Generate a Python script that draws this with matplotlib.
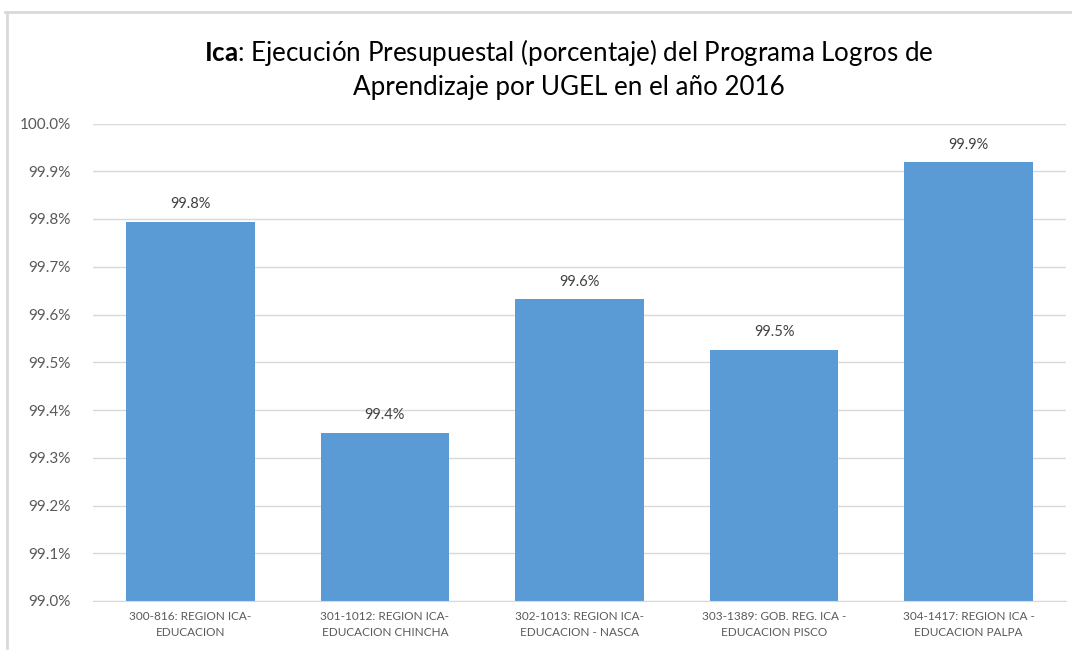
import matplotlib
matplotlib.use("Agg")
import matplotlib.pyplot as plt
from matplotlib.lines import Line2D
from matplotlib.ticker import FuncFormatter

categories = ["300-816: REGION ICA-\nEDUCACION",
              "301-1012: REGION ICA-\nEDUCACION CHINCHA",
              "302-1013: REGION ICA-\nEDUCACION - NASCA",
              "303-1389: GOB. REG. ICA -\nEDUCACION PISCO",
              "304-1417: REGION ICA -\nEDUCACION PALPA"]
values = [99.794, 99.352, 99.632, 99.526, 99.919]
yticks = [99.0, 99.1, 99.2, 99.3, 99.4, 99.5, 99.6, 99.7, 99.8, 99.9, 100.0]

plt.rcParams['font.family'] = ['Lato', 'DejaVu Sans']
plt.rcParams['mathtext.fontset'] = 'custom'
plt.rcParams['mathtext.bf'] = 'Lato:bold'
plt.rcParams['mathtext.rm'] = 'Lato'

W, H = 1072, 650
fig = plt.figure(figsize=(W/100, H/100), dpi=100)
ax = fig.add_axes([93/W, 1-601/H, (1066-93)/W, (601-123.5)/H])

x = range(len(categories))
ax.bar(x, [v - 99.0 for v in values], bottom=99.0, width=0.66, color="#5B9BD5", zorder=3)
for xi, v in zip(x, values):
    ax.text(xi, v + 0.022, f"{v:.1f}%", ha="center", va="bottom", fontsize=10.5, color="#404040")

ax.set_xlim(-0.5, len(categories) - 0.5)
ax.set_ylim(99.0, 100.0)
ax.set_yticks(yticks)
ax.yaxis.set_major_formatter(FuncFormatter(lambda v, p: f"{v:.1f}%"))
ax.set_xticks(list(x))
ax.set_xticklabels(categories, fontsize=8.5, color="#595959", linespacing=1.6)
ax.tick_params(axis="y", labelsize=11, colors="#595959", length=0, pad=16)
ax.tick_params(axis="x", length=0, pad=7)
ax.grid(axis="y", color="#D9D9D9", linewidth=1, zorder=0)
for s in ["top", "right", "left"]:
    ax.spines[s].set_visible(False)
ax.spines["bottom"].set_color("#D9D9D9")
ax.spines["bottom"].set_zorder(4)

fig.text(569/W, 1-52/H, r"$\bf{Ica}$: Ejecución Presupuestal (porcentaje) del Programa Logros de",
         ha="center", va="center", fontsize=18.7, color="#000000")
fig.text(569/W, 1-87/H, "Aprendizaje por UGEL en el año 2016",
         ha="center", va="center", fontsize=18.7, color="#000000")

fig.add_artist(Line2D([5/W, 1.0], [1-12/H, 1-12/H], color="#D9D9D9", linewidth=2, transform=fig.transFigure))
fig.add_artist(Line2D([7/W, 7/W], [1-12/H, 1-648/H], color="#D9D9D9", linewidth=2, transform=fig.transFigure))

fig.savefig("out.png", dpi=100)
